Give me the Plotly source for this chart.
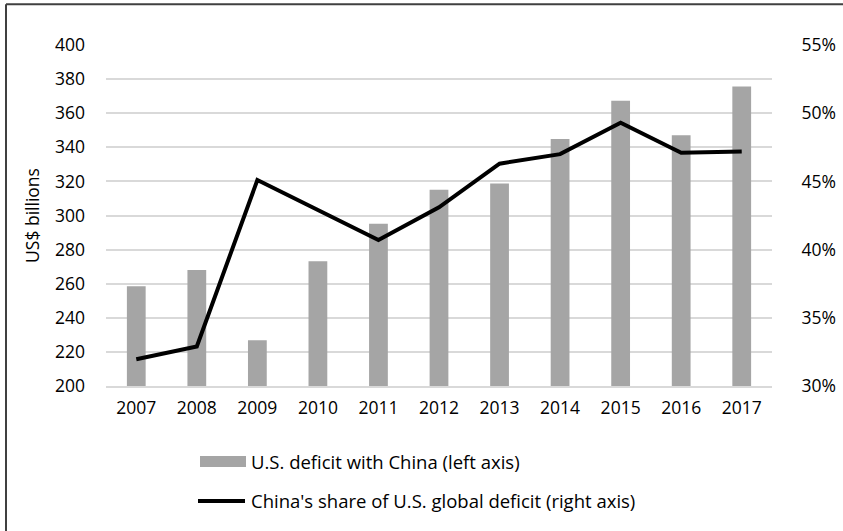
import plotly.graph_objects as go

years = ["2007", "2008", "2009", "2010", "2011", "2012", "2013", "2014", "2015", "2016", "2017"]
deficit_bn = [258.5, 268.0, 226.9, 273.1, 295.2, 315.1, 318.7, 344.8, 367.3, 347.0, 375.6]
china_share_pct = [31.96, 32.9, 45.1, 42.9, 40.7, 43.1, 46.3, 47.0, 49.3, 47.1, 47.2]

bar_name = "U.S. deficit with China (left axis)"
line_name = "China's share of U.S. global deficit (right axis)"
left_ticks = list(range(200, 401, 20))
right_ticks = [30, 35, 40, 45, 50, 55]

FONT = "Open Sans"
FS = 17.5
FS_LEG = 18.5
BAR_COLOR = "#a5a5a5"
GRID = "#d9d9d9"

fig = go.Figure()
fig.add_trace(go.Bar(
    x=years, y=deficit_bn, name=bar_name, marker_color=BAR_COLOR,
    marker_line_width=0, yaxis="y", showlegend=False,
))
fig.add_trace(go.Scatter(
    x=years, y=china_share_pct, name=line_name, mode="lines",
    line=dict(color="#000000", width=4), yaxis="y2", showlegend=False,
))

# plot area in pixels: x 106..772, y 44.7..386
L, R, T, B = 106, 772, 44.7, 386
W, H = R - L, B - T


def px(x):
    return (x - L) / W


def py(y):
    return (B - y) / H


fig.update_layout(
    width=843, height=531,
    margin=dict(l=L, r=843 - R, t=T, b=531 - B, autoexpand=False),
    paper_bgcolor="white", plot_bgcolor="white",
    font=dict(family=FONT, size=FS, color="#000000"),
    bargap=0.69,
    xaxis=dict(
        showgrid=False, showline=True, linecolor=GRID, linewidth=1.5,
        ticks="", tickfont=dict(size=FS), ticklabelstandoff=5, automargin=False,
    ),
    yaxis=dict(
        range=[200, 400], tickvals=left_ticks, showgrid=True, gridcolor=GRID,
        gridwidth=1.5, zeroline=False, showline=False, ticks="",
        ticklabelstandoff=20, tickfont=dict(size=FS), automargin=False,
        title=dict(text="US$ billions", font=dict(size=FS), standoff=10),
    ),
    yaxis2=dict(
        range=[30, 55], tickvals=right_ticks,
        ticktext=[f"{v}%" for v in right_ticks],
        overlaying="y", side="right", showgrid=False, zeroline=False,
        showline=False, ticks="outside", ticklen=5,
        tickcolor="rgba(0,0,0,0)", ticklabelstandoff=20,
        tickfont=dict(size=FS), automargin=False,
    ),
    showlegend=False,
)

# chart frame (left and top edges)
fig.add_shape(type="line", xref="paper", yref="paper",
              x0=px(6), x1=px(845), y0=py(4), y1=py(4),
              line=dict(color="#404040", width=2))
fig.add_shape(type="line", xref="paper", yref="paper",
              x0=px(6), x1=px(6), y0=py(4), y1=py(533),
              line=dict(color="#404040", width=2))

# legend entries
fig.add_shape(type="rect", xref="paper", yref="paper",
              x0=px(200), x1=px(246), y0=py(467), y1=py(456),
              fillcolor=BAR_COLOR, line=dict(width=0))
fig.add_shape(type="line", xref="paper", yref="paper",
              x0=px(198), x1=px(245), y0=py(501), y1=py(501),
              line=dict(color="#000000", width=4))
fig.add_annotation(xref="paper", yref="paper", x=px(249), y=py(461.5),
                   text=bar_name, showarrow=False, xanchor="left",
                   yanchor="middle", font=dict(size=FS_LEG))
fig.add_annotation(xref="paper", yref="paper", x=px(249), y=py(501),
                   text=line_name, showarrow=False, xanchor="left",
                   yanchor="middle", font=dict(size=FS_LEG))

fig.write_html("out.html")
